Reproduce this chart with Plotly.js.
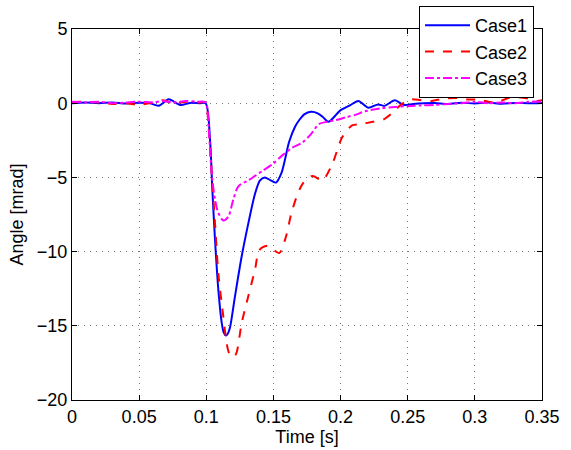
<!DOCTYPE html>
<html>
<head>
<meta charset="utf-8">
<script src="https://cdn.plot.ly/plotly-3.0.1.min.js"></script>
<style>html,body{margin:0;padding:0;background:#fff;}#chart{width:571px;height:450px;}</style>
</head>
<body>
<div id="chart"></div>
<script>
const seriesNames = ["Case1", "Case2", "Case3"];

const case1T = [0, 0.01, 0.02, 0.03, 0.04, 0.05, 0.058, 0.0646, 0.072, 0.0806, 0.088, 0.095, 0.0995,
  0.1028, 0.1045, 0.1065, 0.109, 0.1115, 0.113, 0.1147, 0.1162, 0.1177, 0.1214, 0.1264, 0.1313, 0.1363, 0.140, 0.1435,
  0.148, 0.1519, 0.156, 0.1617, 0.166, 0.1691, 0.173, 0.178, 0.183, 0.187, 0.191, 0.195, 0.1996, 0.207,
  0.2132, 0.2206, 0.228, 0.2326, 0.2405, 0.2467, 0.254, 0.262, 0.27, 0.28, 0.29, 0.30, 0.31, 0.32, 0.33, 0.34, 0.35];
const case1V = [0, 0.05, 0.0, 0.05, -0.02, 0.03, 0.0, -0.17, 0.26, -0.12, 0.02, 0.0, 0.0,
  -2.5, -5.8, -9.2, -12.6, -14.8, -15.45, -15.65, -15.5, -15.1, -13.0, -10.3, -8.1, -6.1, -5.2, -5.0,
  -5.2, -5.35, -4.7, -2.6, -1.6, -1.15, -0.75, -0.58, -0.68, -0.95, -1.25, -0.95, -0.5, -0.15,
  0.15, -0.3, -0.08, -0.18, 0.2, -0.12, -0.05, 0.0, 0.02, -0.05, 0.03, -0.02, 0.04, -0.03, 0.02, 0.0, 0.02];

const case2T = [0, 0.01, 0.02, 0.03, 0.04, 0.05, 0.06, 0.068, 0.075, 0.085, 0.095, 0.0995,
  0.1015, 0.104, 0.1065, 0.109, 0.1127, 0.1152, 0.117, 0.119, 0.121, 0.1226, 0.1264, 0.1313, 0.1363, 0.1395, 0.1457,
  0.1543, 0.1593, 0.164, 0.1716, 0.179, 0.1864, 0.1938, 0.2012, 0.2086, 0.216, 0.224, 0.232, 0.238,
  0.245, 0.252, 0.26, 0.268, 0.276, 0.287, 0.295, 0.302, 0.31, 0.316, 0.325, 0.332, 0.34, 0.346, 0.35];
const case2V = [0.08, 0.1, 0.05, -0.05, 0.0, -0.1, 0.05, 0.2, 0.0, 0.1, 0.05, 0.05,
  -1.35, -4.7, -8.1, -11.5, -14.4, -16.2, -16.85, -17.1, -17.05, -16.8, -14.8, -13.0, -11.2, -9.9, -9.6,
  -10.1, -9.0, -7.2, -5.45, -4.9, -5.2, -4.1, -2.3, -1.5, -1.4, -1.25, -1.1, -0.7,
  -0.1, 0.25, 0.2, 0.15, 0.3, 0.35, 0.25, 0.25, 0.1, 0.05, 0.35, 0.4, 0.3, 0.15, 0.2];

const case3T = [0, 0.01, 0.02, 0.03, 0.04, 0.05, 0.06, 0.068, 0.075, 0.085, 0.093, 0.0995,
  0.1015, 0.104, 0.1065, 0.109, 0.1127, 0.1164, 0.1201, 0.1239, 0.1313, 0.1363, 0.142, 0.1494,
  0.1568, 0.164, 0.1716, 0.1778, 0.184, 0.19, 0.196, 0.204, 0.212, 0.218, 0.23, 0.24, 0.25, 0.26,
  0.27, 0.28, 0.29, 0.30, 0.31, 0.32, 0.33, 0.34, 0.35];
const case3V = [0.1, 0.05, 0.1, 0.0, 0.05, 0.1, 0.05, 0.15, 0.05, 0.15, 0.1, 0.05,
  -1.35, -4.7, -6.5, -7.4, -7.9, -7.65, -6.5, -5.6, -5.2, -4.9, -4.55, -4.1,
  -3.5, -3.0, -2.65, -2.1, -1.4, -1.25, -1.15, -0.95, -0.75, -0.55, -0.35, -0.25, -0.2, -0.15,
  -0.12, -0.05, 0.0, 0.1, 0.0, 0.05, 0.0, 0.1, 0.1];

const xTicks = [0, 0.05, 0.1, 0.15, 0.2, 0.25, 0.3, 0.35];
const xTickText = ["0", "0.05", "0.1", "0.15", "0.2", "0.25", "0.3", "0.35"];
const yTicks = [-20, -15, -10, -5, 0, 5];

const font = "Liberation Sans, Arial, Helvetica, sans-serif";

const traces = [
  {x: case1T, y: case1V, name: seriesNames[0], mode: "lines",
   line: {color: "#0000ff", width: 2, shape: "spline", smoothing: 0.8}},
  {x: case2T, y: case2V, name: seriesNames[1], mode: "lines",
   line: {color: "#ff0000", width: 2, dash: "dash", shape: "spline", smoothing: 0.8}},
  {x: case3T, y: case3V, name: seriesNames[2], mode: "lines",
   line: {color: "#ff00ff", width: 2, dash: "dashdot", shape: "spline", smoothing: 0.8}}
];

const axisCommon = {
  showline: true, linecolor: "#000", linewidth: 1, mirror: "ticks",
  ticks: "inside", ticklen: 5, tickcolor: "#000", tickwidth: 1,
  showgrid: true, gridcolor: "#777", griddash: "1px,5px", gridwidth: 1,
  zeroline: false, tickfont: {family: font, size: 18, color: "#000"}
};

const layout = {
  width: 571, height: 450,
  margin: {l: 72, r: 29, t: 29, b: 50, autoexpand: false},
  paper_bgcolor: "#fff", plot_bgcolor: "#fff",
  font: {family: font, size: 18, color: "#000"},
  showlegend: true,
  legend: {x: 0.983, y: 1.062, xanchor: "right", yanchor: "top",
    bgcolor: "#fff", bordercolor: "#000", borderwidth: 1, itemwidth: 45,
    font: {family: font, size: 18, color: "#000"}, tracegroupgap: 0},
  xaxis: Object.assign({}, axisCommon, {
    range: [0, 0.35], tickvals: xTicks, ticktext: xTickText, automargin: false,
    title: {text: "Time [s]", font: {family: font, size: 18}, standoff: 2}
  }),
  yaxis: Object.assign({}, axisCommon, {
    range: [-20, 5], tickvals: yTicks, automargin: false,
    title: {text: "Angle [mrad]", font: {family: font, size: 18}, standoff: 8}
  })
};

Plotly.newPlot("chart", traces, layout, {displayModeBar: false, staticPlot: true});
</script>
</body>
</html>
